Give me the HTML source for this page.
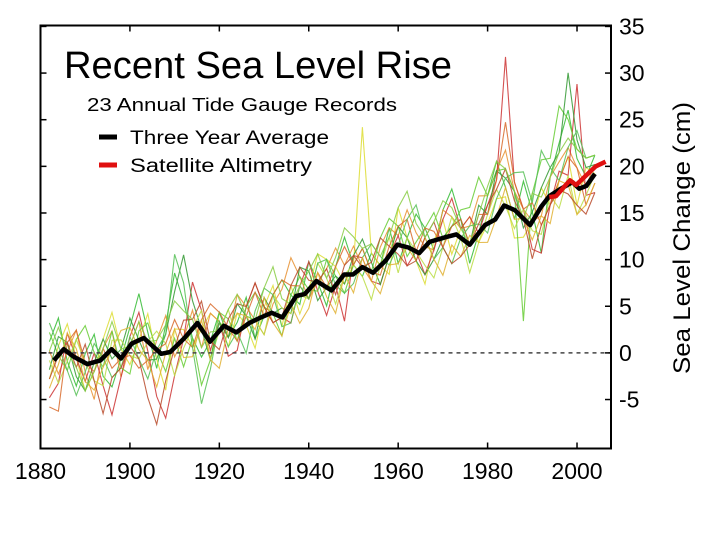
<!DOCTYPE html>
<html><head><meta charset="utf-8"><style>
body{margin:0;background:#fff;}
svg{display:block;font-family:"Liberation Sans",sans-serif;}
</style></head><body>
<svg id="chart" width="720" height="540" viewBox="0 0 720 540" xmlns="http://www.w3.org/2000/svg">
<rect x="0" y="0" width="720" height="540" fill="#fff"/>
<g id="gauges"></g>
<g id="marks"></g>
<rect x="40.5" y="25.5" width="570.5" height="423" fill="none" stroke="#000" stroke-width="2"/>
<g id="axes"></g>
<text x="64" y="78" font-size="38" font-family="'Liberation Sans Narrow','Liberation Sans',sans-serif" textLength="388" lengthAdjust="spacingAndGlyphs">Recent Sea Level Rise</text>
<text x="87" y="111" font-size="18" font-family="'Liberation Sans Narrow','Liberation Sans',sans-serif" textLength="310" lengthAdjust="spacingAndGlyphs">23 Annual Tide Gauge Records</text>
<line x1="99" y1="137" x2="117" y2="137" stroke="#000" stroke-width="5"/>
<text x="130" y="144" font-size="19" font-family="'Liberation Sans Narrow','Liberation Sans',sans-serif" textLength="199" lengthAdjust="spacingAndGlyphs">Three Year Average</text>
<line x1="99" y1="165" x2="117" y2="165" stroke="#e01010" stroke-width="5"/>
<text x="130" y="172" font-size="19" font-family="'Liberation Sans Narrow','Liberation Sans',sans-serif" textLength="182" lengthAdjust="spacingAndGlyphs">Satellite Altimetry</text>
<text transform="translate(690,238) rotate(-90)" text-anchor="middle" font-size="24" textLength="272" lengthAdjust="spacingAndGlyphs">Sea Level Change (cm)</text>
</svg>
<script>
const xTicks=[1880,1900,1920,1940,1960,1980,2000];
const yTicks=[-5,0,5,10,15,20,25,30,35];
const avgYears=[1883,1885.2,1887.4,1890.5,1893.4,1895.9,1898,1900.4,1903.1,1907,1909,1912.2,1915.1,1917.9,1921,1923.8,1926.7,1929.3,1931.7,1934.1,1937.2,1939.1,1941.7,1945.1,1947.9,1949.9,1952,1954.4,1957.2,1959.8,1962.3,1964.7,1967,1970.6,1973,1976,1979.4,1981.7,1983.7,1986.1,1989.5,1992,1993.8,1996.4,1999,2000.5,2002.1,2004];
const avgValues=[-0.8,0.4,-0.4,-1.2,-0.8,0.4,-0.6,1.0,1.6,-0.1,0.1,1.6,3.2,1.2,2.9,2.2,3.2,3.8,4.3,3.8,6.1,6.3,7.7,6.7,8.4,8.4,9.2,8.6,9.9,11.6,11.3,10.7,11.9,12.4,12.7,11.6,13.7,14.3,15.8,15.3,13.7,15.7,16.8,17.6,18.3,17.6,17.9,19.2];
const satYears=[1993.8,1995.3,1998.4,1999.8,2004.2,2006.4];
const satValues=[16.7,16.8,18.5,18.0,20.0,20.5];
const gaugeStart=1882, gaugeStep=2;
const gaugeColors=["#33bb33","#dddd33","#e89030","#cc3333","#66cc33","#339933","#bbdd44","#d86a2a","#55c055","#e0b030","#b84a2a","#88cc44"];
const gauge1=[2,4,-1,-3,1,3,-2,-4,0,2,5,1,-2,3,8,4,-1,-3,0,2,-1,1,3,-2,0,2,4,1,-1,3,0,-2,2,4,1,-1,2,0,3,-2,1,4,2,-1,3,5,2,-2,0,3,6,2,-1,4,1,-5,2,5,8,3,1,2];
const gauge2=[-2,1,3,0,-3,-1,2,4,1,-2,0,3,-1,-4,2,1,-2,0,3,1,-2,2,0,-3,1,3,-1,2,-2,0,3,3,2,-1,1,15,2,0,-2,4,1,-1,-4,0,2,-2,1,3,-1,0,2,1,-3,-2,0,2,-1,1,3,-2,2,0];
const gauge3=[1,-2,0,3,-1,-4,1,2,-2,0,2,-3,1,4,-1,0,2,-2,3,1,-1,4,2,0,-2,1,3,5,2,-1,0,2,4,1,3,0,-1,2,3,1,4,2,0,-1,3,2,1,2,4,3,5,6,2,1,0,-1,2,3,4,2,0,1];
const gauge4=[-4,-3,2,0,-2,1,-3,-7,-2,1,3,-1,-5,-7,-3,0,5,2,-1,1,-3,-2,2,4,1,-1,0,-2,1,3,-1,-3,0,-5,2,1,-1,-2,0,1,-2,0,-3,-1,2,4,1,3,0,2,4,16,3,1,-3,-5,-1,2,1,11,-1,-2];
const gauge5=[3,0,-2,2,4,1,-1,2,-1,-3,1,2,0,-2,1,-3,-1,-6,-2,2,1,-1,2,3,1,0,-2,1,2,0,-1,3,1,-2,1,2,0,3,4,2,-1,1,2,3,0,1,3,4,6,3,5,4,2,-11,3,5,4,9,7,4,3,2];
const gauge6=[-1,2,1,-2,-3,0,2,-1,1,3,0,-2,-1,2,6,9,3,0,-2,1,-1,3,1,-2,2,0,1,-1,3,2,-2,0,1,-1,2,3,1,-2,0,2,1,-1,-3,-2,0,1,2,0,3,1,5,3,2,-1,1,2,3,4,12,5,2,1];
const gauge7=[0,-3,-1,2,0,-2,-3,1,2,-1,-2,0,2,1,-3,-1,0,2,-2,0,2,-1,1,0,-2,2,1,-1,0,-1,2,1,-2,0,1,-1,-3,0,2,-3,1,0,-2,-4,-1,2,0,-3,-1,1,3,0,-2,1,-1,-3,0,-2,1,-3,-1,0];
const gauge8=[-5,-6,1,3,0,-1,1,-2,0,-1,-3,-2,0,1,3,0,-2,1,4,2,0,-1,1,3,0,2,4,2,1,-1,1,0,2,3,1,2,0,-1,1,2,3,0,2,1,-1,1,2,0,2,1,4,9,3,1,2,-2,-1,1,3,2,-2,-1];
const gauge9=[4,1,-2,-4,-1,2,0,-3,-1,1,-2,-4,0,2,10,6,-2,-8,-3,1,-2,0,-3,1,3,2,-1,-2,1,-1,2,3,0,-2,-1,1,3,1,-1,0,3,5,1,-2,-1,-3,0,2,1,-1,2,3,4,5,2,6,3,1,4,6,3,2];
const gauge10=[-3,-1,2,1,-2,-3,-1,0,3,2,-1,-2,-4,0,2,-2,-3,1,-2,-4,0,2,1,-1,2,-1,-2,0,-3,-2,1,-1,-3,0,-2,1,-1,-3,-1,-2,0,-1,1,-2,-4,-1,-2,1,-1,-2,0,2,-1,0,-2,-1,-3,1,0,-3,-2,-1];
const gauge11=[-2,0,1,-1,2,-2,-6,-3,-1,0,-2,-6,-8,-3,0,2,1,3,0,-2,1,3,2,4,1,-1,0,2,3,1,0,2,-1,1,2,0,1,3,1,-1,-2,-1,1,2,-1,-3,-2,0,1,2,3,4,1,0,-4,-2,-1,0,-1,-2,-3,-2];
const gauge12=[1,3,0,-1,-3,-1,1,3,1,0,2,0,1,3,5,3,1,-2,1,0,2,4,1,0,3,5,2,0,1,2,3,1,3,5,4,2,3,1,2,4,6,3,1,2,4,3,1,0,2,4,6,4,2,0,3,1,2,4,5,4,3,2];
const gauges=[gauge1,gauge2,gauge3,gauge4,gauge5,gauge6,gauge7,gauge8,gauge9,gauge10,gauge11,gauge12];

const NS="http://www.w3.org/2000/svg";
const X0=40.5,X1=611,Y0=448.5,Y1=25.5,yrMin=1880,yrMax=2007.6,vMin=-10.25,vMax=35.1;
function xs(y){return X0+(y-yrMin)/(yrMax-yrMin)*(X1-X0);}
function ys(v){return Y0-(v-vMin)/(vMax-vMin)*(Y0-Y1);}
function trend(yr){
  if(yr<=avgYears[0])return avgValues[0];
  for(let i=1;i<avgYears.length;i++){if(yr<=avgYears[i]){const t=(yr-avgYears[i-1])/(avgYears[i]-avgYears[i-1]);return avgValues[i-1]+t*(avgValues[i]-avgValues[i-1]);}}
  return avgValues[avgValues.length-1];
}
function mk(tag,attrs,parent){const e=document.createElementNS(NS,tag);for(const k in attrs)e.setAttribute(k,attrs[k]);parent.appendChild(e);return e;}
const gG=document.getElementById('gauges');
gauges.forEach((arr,si)=>{
  let pts=[];
  arr.forEach((d,i)=>{const yr=gaugeStart+gaugeStep*i;if(yr>2004)return;pts.push(xs(yr).toFixed(1)+','+ys(trend(yr)+d).toFixed(1));});
  const p=mk('polyline',{points:pts.join(' '),fill:'none',stroke:gaugeColors[si],'stroke-width':'1.1','stroke-opacity':'0.85'},gG);
  
  
});
const mG=document.getElementById('marks');
const zl=mk('line',{x1:X0,x2:X1,y1:ys(0),y2:ys(0),stroke:'#444','stroke-width':'1.5','stroke-dasharray':'4,4'},mG);


const av=mk('polyline',{points:avgYears.map((y,i)=>xs(y).toFixed(1)+','+ys(avgValues[i]).toFixed(1)).join(' '),fill:'none',stroke:'#000','stroke-width':'4.5','stroke-linejoin':'round'},mG);


const sat=mk('polyline',{points:satYears.map((y,i)=>xs(y).toFixed(1)+','+ys(satValues[i]).toFixed(1)).join(' '),fill:'none',stroke:'#e01010','stroke-width':'4.5','stroke-linejoin':'round'},mG);


const aG=document.getElementById('axes');
xTicks.forEach(t=>{
  const x=xs(t);
  mk('line',{x1:x,x2:x,y1:Y0,y2:Y0-6,stroke:'#000','stroke-width':'1.5'},aG);
  mk('line',{x1:x,x2:x,y1:Y1,y2:Y1+6,stroke:'#000','stroke-width':'1.5'},aG);
  const tx=mk('text',{x:x,y:479,'text-anchor':'middle','font-size':'23'},aG);
  tx.textContent=t;
  
  
});
yTicks.forEach(t=>{
  const y=ys(t);
  mk('line',{x1:X1,x2:X1-6,y1:y,y2:y,stroke:'#000','stroke-width':'1.5'},aG);
  mk('line',{x1:X0,x2:X0+6,y1:y,y2:y,stroke:'#000','stroke-width':'1.5'},aG);
  const tx=mk('text',{x:619,y:y+8,'font-size':'23'},aG);
  tx.textContent=t;
  
  
});
</script>
</body></html>
